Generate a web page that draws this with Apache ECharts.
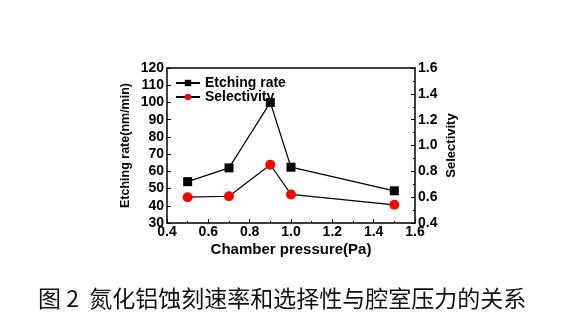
<!DOCTYPE html>
<html><head><meta charset="utf-8">
<script src="https://cdn.jsdelivr.net/npm/echarts@6/dist/echarts.min.js"></script>
<style>html,body{margin:0;padding:0;background:#fff}#c{width:586px;height:327px}</style>
</head><body><div id="c"></div>
<script>
const pressure = [0.5, 0.7, 0.9, 1.0, 1.5];
const etchingRate = [54, 62, 100, 62.4, 48.7];
const selectivity = [0.60, 0.607, 0.851, 0.621, 0.541];
const seriesNames = ['Etching rate', 'Selectivity'];
const caption = '图 2  氮化铝蚀刻速率和选择性与腔室压力的关系';

const font = 'Liberation Sans, Arial, sans-serif';
const chart = echarts.init(document.getElementById('c'));
const axisCommon = {
  axisLine: {show: true, lineStyle: {color: '#000', width: 1.5}},
  axisTick: {show: true, inside: true, length: 4, lineStyle: {color: '#000'}},
  minorTick: {show: true, splitNumber: 2, length: 2, lineStyle: {color: '#000'}},
  splitLine: {show: false},
  axisLabel: {color: '#000', fontWeight: 'bold', fontSize: 14, fontFamily: font}
};
chart.setOption({
  animation: false,
  title: {
    text: caption, left: 33, top: 282,
    textStyle: {fontSize: 23, fontWeight: 'normal', color: '#111', fontFamily: 'Noto Sans CJK SC'}
  },
  grid: {left: 167, right: 171, top: 68, bottom: 104},
  legend: {
    left: 170, top: 71, orient: 'vertical', itemGap: 0, itemWidth: 24, itemHeight: 8,
    textStyle: {fontSize: 14, lineHeight: 14, fontWeight: 'bold', color: '#000', fontFamily: font},
    data: seriesNames
  },
  xAxis: [
    Object.assign({}, axisCommon, {
      type: 'value', min: 0.4, max: 1.6, interval: 0.2,
      name: 'Chamber pressure(Pa)', nameLocation: 'middle', nameGap: 19,
      nameTextStyle: {fontSize: 15, fontWeight: 'bold', color: '#000', fontFamily: font},
      axisLabel: Object.assign({}, axisCommon.axisLabel, {margin: 2, formatter: v => v.toFixed(1)})
    }),
    {
      type: 'value', min: 0.4, max: 1.6, position: 'top',
      axisLine: {show: true, lineStyle: {color: '#000', width: 1.5}},
      axisTick: {show: false}, axisLabel: {show: false}, splitLine: {show: false}
    }
  ],
  yAxis: [
    Object.assign({}, axisCommon, {
      type: 'value', min: 30, max: 120, interval: 10,
      name: 'Etching rate(nm/min)', nameLocation: 'middle', nameGap: 35,
      nameTextStyle: {fontSize: 12.5, fontWeight: 'bold', color: '#000', fontFamily: font},
      axisLabel: Object.assign({}, axisCommon.axisLabel, {margin: 3}),
      minorTick: {show: false}
    }),
    Object.assign({}, axisCommon, {
      type: 'value', min: 0.4, max: 1.6, interval: 0.2, position: 'right',
      name: 'Selectivity', nameLocation: 'middle', nameGap: 30,
      nameTextStyle: {fontSize: 13, fontWeight: 'bold', color: '#000', fontFamily: font},
      axisLabel: Object.assign({}, axisCommon.axisLabel, {margin: 3, formatter: v => v.toFixed(1)})
    })
  ],
  series: [
    {
      name: seriesNames[0], type: 'line', yAxisIndex: 0,
      data: pressure.map((x, i) => [x, etchingRate[i]]),
      symbol: 'rect', symbolSize: 9,
      itemStyle: {color: '#000'}, lineStyle: {color: '#000', width: 1.2}
    },
    {
      name: seriesNames[1], type: 'line', yAxisIndex: 1,
      data: pressure.map((x, i) => [x, selectivity[i]]),
      symbol: 'circle', symbolSize: 10,
      itemStyle: {color: '#ff0000'}, lineStyle: {color: '#000', width: 1.2}
    }
  ]
});
</script></body></html>
